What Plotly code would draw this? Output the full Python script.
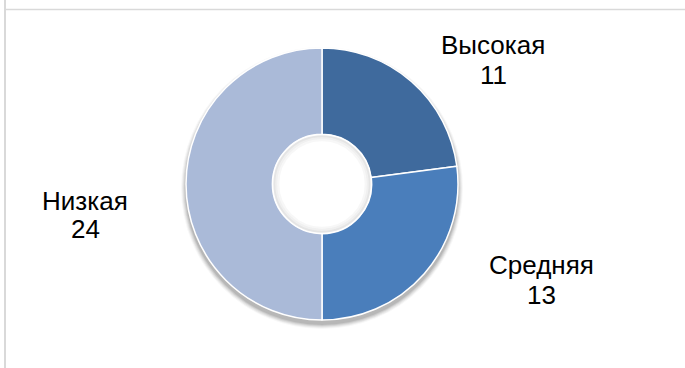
import plotly.graph_objects as go

# Distribution of levels
levels = ["Высокая", "Средняя", "Низкая"]
counts = [11, 13, 24]
colors = ["#3F6A9D", "#4A7EBB", "#AABAD8"]

W, H = 685, 368
cx, cy, r = 322, 184, 136
hole = 0.365

fig = go.Figure()
fig.add_trace(go.Pie(
    labels=levels,
    values=counts,
    sort=False,
    direction="clockwise",
    rotation=0,
    hole=hole,
    marker=dict(colors=colors, line=dict(color="white", width=1.5)),
    textinfo="none",
    hoverinfo="label+value",
    showlegend=False,
    domain=dict(x=[(cx - r) / W, (cx + r) / W], y=[(H - cy - r) / H, (H - cy + r) / H]),
))

# Soft drop shadow beneath the ring
for k, op in [(5, 0.03), (4, 0.05), (3, 0.06), (2, 0.08), (1, 0.09)]:
    rr = r + k
    fig.add_shape(type="circle", xref="paper", yref="paper", layer="below",
                  x0=(cx - rr) / W, x1=(cx + rr) / W,
                  y0=1 - (cy + 4 + rr) / H, y1=1 - (cy + 4 - rr) / H,
                  fillcolor=f"rgba(0,0,0,{op})", line=dict(width=0))

# White centre with a faint inner shading
hr = r * hole
fig.add_shape(type="circle", xref="paper", yref="paper", layer="above",
              x0=(cx - hr + 0.5) / W, x1=(cx + hr - 0.5) / W,
              y0=1 - (cy + hr - 0.5) / H, y1=1 - (cy - hr + 0.5) / H,
              fillcolor="white", line=dict(color="white", width=1.5))
for k, op in [(2, 0.10), (4, 0.06), (6, 0.03)]:
    rr = hr - k
    fig.add_shape(type="circle", xref="paper", yref="paper", layer="above",
                  x0=(cx - rr) / W, x1=(cx + rr) / W,
                  y0=1 - (cy + rr) / H, y1=1 - (cy - rr) / H,
                  line=dict(color=f"rgba(0,0,0,{op})", width=2))

# Category labels with values (name line, value line)
label_pos = {"Высокая": (493, 45, 75), "Средняя": (541, 265, 295), "Низкая": (85, 201, 229)}
for name, val in zip(levels, counts):
    px, py1, py2 = label_pos[name]
    for text, py in [(name, py1), (str(val), py2)]:
        fig.add_annotation(
            x=px / W, y=1 - py / H, xref="paper", yref="paper",
            xanchor="center", yanchor="middle",
            text=text, showarrow=False,
            font=dict(family="Liberation Sans, Arial", size=26, color="#000000"),
        )

# Frame lines
fig.add_shape(type="line", xref="paper", yref="paper",
              x0=4 / W, x1=1, y0=1 - 9.5 / H, y1=1 - 9.5 / H,
              line=dict(color="#D9D9D9", width=1.5))
fig.add_shape(type="line", xref="paper", yref="paper",
              x0=5 / W, x1=5 / W, y0=0, y1=1,
              line=dict(color="#D9D9D9", width=2))

fig.update_layout(
    width=W, height=H,
    margin=dict(l=0, r=0, t=0, b=0),
    paper_bgcolor="white",
    plot_bgcolor="white",
)

fig.write_html("out.html")
